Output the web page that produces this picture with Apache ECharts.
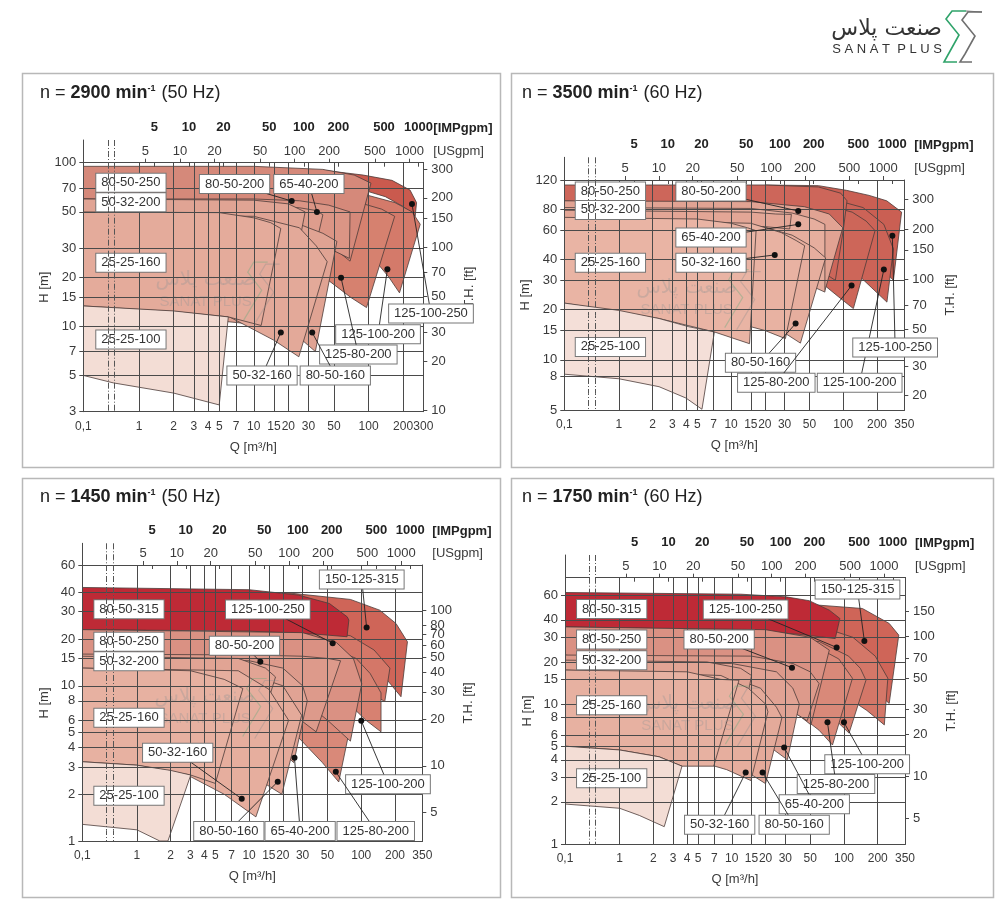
<!DOCTYPE html>
<html>
<head>
<meta charset="utf-8">
<script src="https://cdn.jsdelivr.net/npm/echarts@6.0.0/dist/echarts.min.js"></script>
<style>
  html, body { margin: 0; padding: 0; background: #fff; }
  #chart { width: 1000px; height: 920px; }
</style>
</head>
<body>
<div id="chart"></div>
<script>
(function() {
  const chart = echarts.init(document.getElementById('chart'));

  // axis ticks
  const qTicks300 = [0.1, 1, 2, 3, 4, 5, 7, 10, 15, 20, 30, 50, 100, 200, 300];
  const qTicks350 = [0.1, 1, 2, 3, 4, 5, 7, 10, 15, 20, 30, 50, 100, 200, 350];
  const gpmTicks = [5, 10, 20, 50, 100, 200, 500, 1000];
  const hTicks2900 = [3, 5, 7, 10, 15, 20, 30, 50, 70, 100];
  const hTicks3500 = [5, 8, 10, 15, 20, 30, 40, 60, 80, 120];
  const hTicks1450 = [1, 2, 3, 4, 5, 6, 8, 10, 15, 20, 30, 40, 60];
  const hTicks1750 = [1, 2, 3, 4, 5, 6, 8, 10, 15, 20, 30, 40, 60];
  const ftTicks2900 = [10, 20, 30, 50, 70, 100, 150, 200, 300];
  const ftTicks3500 = [20, 30, 50, 70, 100, 150, 200, 300];
  const ftTicks1450 = [5, 10, 20, 30, 40, 50, 60, 70, 80, 100];
  const ftTicks1750 = [5, 10, 20, 30, 50, 70, 100, 150];

  // unit factors
  const M_TO_FT = 3.28084;
  const M3H_TO_USGPM = 4.4029;
  const M3H_TO_IMPGPM = 3.6662;

  // pump ranges [Q m3/h, H m], back to front
  const regions2900 = [
    ['125-100-250', [[40, 90], [90, 84], [160, 78], [230, 68], [262, 57], [255, 47], [200, 54], [140, 62], [90, 68], [40, 72]]],
    ['125-100-200', [[30, 70], [100, 63], [170, 57], [240, 50], [282, 42], [186, 16], [150, 20], [110, 26], [70, 33], [30, 42]]],
    ['125-80-200', [[20, 64], [70, 59], [130, 52], [169, 47], [96, 13], [70, 15], [45, 19], [20, 28]]],
    ['80-50-250', [[0.1, 95], [10, 95], [40, 91], [75, 84], [105, 75], [69, 25], [50, 30], [30, 38], [15, 47], [5, 55], [0.1, 60]]],
    ['80-50-200', [[0.1, 60], [10, 60], [25, 58.5], [45, 55], [69, 50], [68, 26], [45, 30], [25, 36], [0.1, 45]]],
    ['65-40-200', [[0.1, 56], [10, 55], [25, 53], [35, 51], [40, 48], [35, 32], [20, 38], [0.1, 45]]],
    ['80-50-160', [[0.1, 48], [10, 47], [25, 42], [40, 37], [53, 33], [34.4, 7], [25, 8.5], [15, 10], [0.1, 13]]],
    ['50-32-200', [[0.1, 60], [10, 59], [20, 56], [28, 50], [26, 38], [15, 41], [0.1, 45]]],
    ['50-32-160', [[0.1, 48], [10, 47], [25, 40], [35, 31], [43.6, 24.8], [24.7, 6.5], [15, 8.2], [6, 11.5], [0.1, 13]]],
    ['25-25-160', [[0.1, 50], [5, 49.5], [10, 46], [14, 43], [17.2, 39.6], [11.6, 10.1], [6, 11.4], [2, 12.3], [0.1, 13.3]]],
    ['25-25-100', [[0.1, 13.3], [2, 12.4], [6, 11.4], [5, 3.3], [2, 3.9], [0.5, 4.5], [0.1, 5]]]
  ];
  const regions3500 = [
    ['125-100-250', [[20, 112], [60, 111], [107, 104], [170, 97], [244, 90], [331, 77], [280, 30], [200, 38], [120, 50], [60, 65], [20, 80]]],
    ['125-100-200', [[20, 98], [80, 92], [150, 82], [230, 65], [280, 46.3], [245, 22.2], [180, 27], [120, 35], [60, 45], [20, 55]]],
    ['125-80-200', [[15, 92], [60, 87], [120, 77], [160, 68], [192, 59.6], [123, 20.3], [90, 24], [60, 30], [30, 40], [15, 48]]],
    ['80-50-250', [[0.1, 112], [20, 112], [60, 109], [95, 100], [108, 90], [100, 60], [85, 30], [60, 35], [40, 45], [20, 60], [5, 80], [0.1, 90]]],
    ['80-50-200', [[0.1, 90], [15, 89], [45, 83], [75, 75], [99, 62], [68.6, 26], [45, 30], [25, 38], [0.1, 50]]],
    ['65-40-200', [[0.1, 82], [15, 81], [35, 76], [55, 70], [68.6, 65], [68.6, 25.5], [45, 29], [25, 36], [0.1, 48]]],
    ['80-50-160', [[0.1, 70], [15, 66], [35, 56], [55, 47], [69.6, 40.9], [41.5, 12.6], [30, 14.5], [15, 17], [0.1, 22]]],
    ['50-32-200', [[0.1, 79], [15, 77], [25, 75], [34.5, 74.6], [33.3, 61], [20, 63], [0.1, 70]]],
    ['50-32-160', [[0.1, 70], [15, 66], [28, 58], [38, 52], [45.3, 48.4], [30.5, 13.4], [20, 15], [10, 17], [0.1, 22]]],
    ['25-25-160', [[0.1, 71.6], [5, 70], [10, 66], [14, 62], [16.7, 59.6], [14.6, 12.5], [7.1, 14.7], [2.28, 17.7], [0.1, 21.9]]],
    ['25-25-100', [[0.1, 21.9], [1, 19.8], [2.28, 17.7], [4.2, 15.8], [7.1, 14.7], [5.5, 5.05], [3.96, 5.9], [2.28, 6.9], [1, 7.7], [0.1, 8.2]]]
  ];
  const regions1450 = [
    ['150-125-315', [[20, 40], [80, 36], [146, 30.7], [204, 25.2], [258, 19.2], [226, 8.5], [160, 11.5], [110, 14], [60, 17], [20, 20]]],
    ['125-100-250', [[5, 24], [40, 23], [80, 21], [130, 17], [180, 13], [162, 7.9], [110, 9.5], [70, 12], [40, 15], [5, 18]]],
    ['125-100-200', [[5, 20], [50, 18], [90, 15], [120, 12], [150, 9], [150, 5.05], [110, 6], [80, 7.5], [40, 10], [5, 14]]],
    ['125-80-200', [[5, 18], [40, 16.5], [70, 14], [95, 10.1], [63, 2.4], [45, 3.2], [25, 5], [5, 9]]],
    ['80-50-315', [[0.1, 43], [10, 41.6], [27.5, 38.4], [52, 33.9], [75, 27.8], [77.5, 26.5], [74.7, 20.7], [40, 21.5], [10, 22.5], [0.1, 23]]],
    ['80-50-250', [[0.1, 23], [30, 22], [60, 19], [85, 15], [101, 10.3], [80, 4.4], [50, 6], [25, 9], [10, 12], [0.1, 15.5]]],
    ['80-50-200', [[0.1, 16], [10, 15.8], [30, 15.5], [50, 15], [65.4, 14.5], [39.6, 5.05], [25, 6.5], [10, 9], [0.1, 11]]],
    ['65-40-200', [[0.1, 15], [10, 14.5], [20, 13], [30, 10], [33, 8], [25, 3.2], [15, 4.5], [0.1, 8]]],
    ['80-50-160', [[0.1, 13], [8, 12.5], [20, 10], [29.4, 6.46], [19.6, 2.0], [12, 2.5], [5, 3.2], [0.1, 4]]],
    ['50-32-200', [[0.1, 15.5], [8, 15], [14, 13], [17.2, 11.4], [15.5, 8.9], [8, 10], [0.1, 12]]],
    ['50-32-160', [[0.1, 13], [8, 12.5], [15, 9.5], [22.5, 6], [11.5, 1.43], [6, 2], [3, 2.6], [0.1, 3.2]]],
    ['25-25-160', [[0.1, 13], [3, 12.5], [6, 11], [8.8, 9.6], [5, 2.35], [3.02, 2.66], [1, 3.08], [0.1, 3.24]]],
    ['25-25-100', [[0.1, 3.24], [1, 3.08], [2, 2.85], [3.02, 2.66], [1.89, 1.0], [1.6, 1.0], [1, 1.18], [0.1, 1.28]]]
  ];
  const regions1750 = [
    ['150-125-315', [[20, 52], [60, 50.9], [146, 48.2], [253, 37.7], [308, 31.1], [253, 10.1], [180, 13], [120, 17], [80, 21], [20, 28]]],
    ['125-100-250', [[10, 40], [60, 36], [120, 30], [190, 22], [246, 15.3], [229, 7.1], [160, 9], [110, 11], [60, 15], [10, 25]]],
    ['125-100-200', [[10, 30], [60, 28], [110, 22], [140, 18], [157, 14.8], [111, 6.2], [80, 8], [40, 12], [10, 20]]],
    ['125-80-200', [[10, 30], [50, 27], [90, 21], [119, 15.3], [79, 5.1], [60, 6.5], [30, 10], [10, 17]]],
    ['80-50-315', [[0.1, 62.7], [12, 61], [30.4, 58.4], [49, 54.8], [74, 46.9], [92, 40.9], [83.6, 29.4], [40, 31.5], [12.4, 33.8], [0.1, 35.6]]],
    ['80-50-250', [[0.1, 35.6], [20, 34], [50, 30], [74, 24.3], [50.8, 7.1], [35, 9], [15, 14], [0.1, 22.4]]],
    ['80-50-200', [[0.1, 22.4], [15, 22], [35, 19.5], [50, 17], [60, 14], [47, 7.6], [30, 9.5], [10, 14], [0.1, 18]]],
    ['65-40-200', [[0.1, 20], [10, 19.5], [25, 17], [35, 13], [40, 10], [31.3, 4.0], [20, 5.2], [0.1, 10]]],
    ['80-50-160', [[0.1, 17.5], [8, 16.5], [18, 13], [25, 9.5], [28, 8], [20, 2.7], [12, 3.5], [0.1, 7]]],
    ['50-32-200', [[0.1, 20.6], [6, 20], [12, 18], [15, 16], [14, 12], [7, 14], [0.1, 17]]],
    ['50-32-160', [[0.1, 17.5], [8, 16], [14, 13], [20, 10], [21, 8.8], [14.8, 2.84], [9, 3.4], [5, 3.9], [0.1, 5]]],
    ['25-25-160', [[0.1, 17.5], [4, 17], [8, 15], [11.6, 14.8], [6.9, 3.6], [3.6, 3.6], [2.25, 4.2], [1, 4.7], [0.1, 5.0]]],
    ['25-25-100', [[0.1, 5.0], [1, 4.7], [2.25, 4.2], [3.6, 3.6], [2.5, 1.33], [1.5, 1.6], [1, 1.8], [0.1, 1.93]]]
  ];

  // tags: name, box Q, box H, dot Q, dot H
  const tags2900 = [
    ['80-50-250', 0.85, 75.5], ['50-32-200', 0.85, 57.2], ['25-25-160', 0.85, 24.4], ['25-25-100', 0.85, 8.3],
    ['80-50-200', 6.8, 74, 21.4, 58.3], ['65-40-200', 30.2, 74, 35.5, 50],
    ['125-100-250', 350, 11.95, 239, 55.9], ['125-100-200', 121, 8.93, 146, 22.3],
    ['125-80-200', 81.5, 6.71, 57.6, 19.8], ['50-32-160', 11.8, 5.0, 17.2, 9.14], ['80-50-160', 51.3, 5.0, 32.3, 9.14]
  ];
  const tags3500 = [
    ['80-50-250', 0.84, 102.3], ['50-32-200', 0.84, 79.4], ['25-25-160', 0.84, 38.2], ['25-25-100', 0.84, 11.96],
    ['80-50-200', 6.62, 102.3, 39.7, 78.2], ['65-40-200', 6.62, 54.3, 39.7, 65], ['50-32-160', 6.62, 38.2, 24.5, 42.6],
    ['80-50-160', 18.3, 9.6, 37.6, 16.5], ['125-80-200', 25.3, 7.29, 118.6, 27.9],
    ['125-100-200', 140, 7.29, 230, 34.8], ['125-100-250', 290, 11.85, 274, 55.6]
  ];
  const tags1450 = [
    ['80-50-315', 0.85, 31.1], ['80-50-250', 0.85, 19.2], ['50-32-200', 0.85, 14.4], ['25-25-160', 0.85, 6.22], ['25-25-100', 0.85, 1.96],
    ['150-125-315', 101, 48.3, 111.6, 23.7], ['125-100-250', 14.7, 31.0, 55.6, 18.8], ['80-50-200', 9.1, 18.1, 12.6, 14.3],
    ['50-32-160', 2.31, 3.7, 8.6, 1.87], ['125-100-200', 173, 2.32, 100, 5.95], ['80-50-160', 6.6, 1.16, 18, 2.41],
    ['65-40-200', 28.5, 1.16, 25.4, 3.44], ['125-80-200', 134.6, 1.16, 59.3, 2.79]
  ];
  const tags1750 = [
    ['80-50-315', 0.85, 47.7], ['80-50-250', 0.85, 28.9], ['50-32-200', 0.85, 20.6], ['25-25-160', 0.85, 9.8], ['25-25-100', 0.85, 2.95],
    ['150-125-315', 132, 65.8, 152, 28.2], ['125-100-250', 13.3, 47.5, 86, 25.4], ['80-50-200', 7.71, 28.9, 34.4, 18.2],
    ['125-100-200', 161, 3.72, 100, 7.4], ['125-80-200', 84.9, 2.68, 71.3, 7.4], ['65-40-200', 54.4, 1.92, 29.3, 4.9],
    ['50-32-160', 7.8, 1.37, 13.3, 3.24], ['80-50-160', 36, 1.37, 18.8, 3.24]
  ];

  // fills
  const tones2900 = {
    '125-100-250': '#ca5a4e', '125-100-200': '#d47a6a', '125-80-200': '#d6816f', '80-50-250': '#d5897a',
    '80-50-200': '#db9585', '65-40-200': '#de9d8d', '80-50-160': '#e0a393', '50-32-200': '#e0a494',
    '50-32-160': '#e3a999', '25-25-160': '#e4ab9b', '25-25-100': '#f3ddd5'
  };
  const tones3500 = {
    '125-100-250': '#ca5f53', '125-100-200': '#cc6357', '125-80-200': '#cd6659', '80-50-250': '#cd665a',
    '80-50-200': '#e1a393', '65-40-200': '#e6ae9e', '80-50-160': '#e6ae9e', '50-32-200': '#e3a696',
    '50-32-160': '#e8b2a2', '25-25-160': '#e9b4a4', '25-25-100': '#f4dfd8'
  };
  const tones60 = {
    '150-125-315': '#cf6558', '125-100-250': '#d47768', '125-100-200': '#d78171', '125-80-200': '#d98979',
    '80-50-315': '#be2a36', '80-50-250': '#da9183', '80-50-200': '#dd9a8b', '65-40-200': '#e1a394',
    '80-50-160': '#e4aa9a', '50-32-200': '#e1a494', '50-32-160': '#e6ae9e', '25-25-160': '#e7b1a1', '25-25-100': '#f3ddd5'
  };

  const panels = [
    { rpm: '2900', hz: '50', frame: [22, 73, 478, 394], plot: [83.3, 162.7, 423.3, 411.7], imp: 140, title: [35, 79],
      qMax: 300, qTicks: qTicks300, hMin: 3, hMax: 100, hTicks: hTicks2900, ftTicks: ftTicks2900,
      regions: regions2900, tags: tags2900, tones: tones2900 },
    { rpm: '3500', hz: '60', frame: [511, 73, 482, 394], plot: [564.3, 180, 904.3, 410], imp: 157.3, title: [517, 79],
      qMax: 350, qTicks: qTicks350, hMin: 5, hMax: 120, hTicks: hTicks3500, ftTicks: ftTicks3500,
      regions: regions3500, tags: tags3500, tones: tones3500 },
    { rpm: '1450', hz: '50', frame: [22, 478, 478, 419], plot: [82.3, 565, 422.3, 841], imp: 543.3, title: [35, 483],
      qMax: 350, qTicks: qTicks350, hMin: 1, hMax: 60, hTicks: hTicks1450, ftTicks: ftTicks1450,
      regions: regions1450, tags: tags1450, tones: tones60 },
    { rpm: '1750', hz: '60', frame: [511, 478, 482, 419], plot: [565, 577.7, 905, 844], imp: 555, title: [517, 483],
      qMax: 350, qTicks: qTicks350, hMin: 1, hMax: 80, hTicks: hTicks1750, ftTicks: ftTicks1750,
      regions: regions1750, tags: tags1750, tones: tones60 }
  ];

  const FONT = '"Liberation Sans", Arial, sans-serif';
  const INK = '#3a3a3a';
  const LINE = '#4a4a4a';
  const BREAK = [0.165, 0.61];
  const EPS = 1.00001;

  const fmt = v => (v < 1 ? String(v).replace('.', ',') : String(Math.round(v)));

  function breaksFor(f) {
    return [{ start: BREAK[0] * f, end: BREAK[1] * f, gap: '1.8%' }];
  }
  const breakArea = {
    show: true,
    expandOnClick: false,
    zigzagAmplitude: 0,
    itemStyle: { color: 'rgba(255,255,255,0)', borderColor: '#555', borderWidth: 1, borderType: [6, 2, 1, 2], opacity: 1 }
  };

  const grid = [], xAxis = [], yAxis = [], series = [], title = [], graphic = [];

  panels.forEach((p, k) => {
    const [l, t, r, b] = p.plot;
    grid.push({ left: l, top: t, width: r - l, height: b - t, outerBoundsMode: 'none', containLabel: false });
    grid.push({ left: l, top: p.imp, width: r - l, height: t - p.imp, outerBoundsMode: 'none', containLabel: false });
    const g = 2 * k;

    xAxis.push({
      gridIndex: g, type: 'log', logBase: 10, min: 0.1, max: p.qMax * EPS, position: 'bottom',
      breaks: breaksFor(1), breakArea: breakArea,
      name: 'Q [m³/h]', nameLocation: 'middle', nameGap: 29,
      nameTextStyle: { fontFamily: FONT, fontSize: 13, color: INK },
      axisLine: { show: true, lineStyle: { color: LINE, width: 1 } },
      axisTick: { show: false, customValues: p.qTicks },
      axisLabel: {
        customValues: p.qTicks, formatter: fmt, showMinLabel: true, showMaxLabel: true, hideOverlap: false,
        fontFamily: FONT, fontSize: 12, color: INK, margin: 9
      },
      splitLine: { show: true, lineStyle: { color: LINE, width: 1 } }
    });
    xAxis.push({
      gridIndex: g, type: 'log', logBase: 10, min: 0.1 * M3H_TO_USGPM, max: p.qMax * M3H_TO_USGPM * EPS, position: 'top',
      breaks: breaksFor(M3H_TO_USGPM), breakArea: { show: false },
      name: '[USgpm]', nameLocation: 'end', nameGap: 10,
      nameTextStyle: { fontFamily: FONT, fontSize: 13, color: INK, verticalAlign: 'bottom', padding: [0, 0, 5, 0] },
      axisLine: { show: true, lineStyle: { color: LINE, width: 1 } },
      axisTick: { show: true, customValues: gpmTicks, length: 4, lineStyle: { color: LINE } },
      axisLabel: { customValues: gpmTicks, formatter: fmt, fontFamily: FONT, fontSize: 13, color: INK, margin: 5 },
      splitLine: { show: false }
    });
    xAxis.push({
      gridIndex: g + 1, type: 'log', logBase: 10, min: 0.1 * M3H_TO_IMPGPM, max: p.qMax * M3H_TO_IMPGPM * EPS, position: 'top',
      breaks: breaksFor(M3H_TO_IMPGPM), breakArea: breakArea,
      axisLine: { show: true, lineStyle: { color: LINE, width: 1 } },
      axisTick: { show: true, inside: true, customValues: gpmTicks, length: 4, lineStyle: { color: LINE } },
      axisLabel: { customValues: gpmTicks, formatter: fmt, fontFamily: FONT, fontSize: 13, fontWeight: 'bold', color: '#222', margin: 6 },
      splitLine: { show: false }
    });

    yAxis.push({
      gridIndex: g, type: 'log', logBase: 10, min: p.hMin, max: p.hMax * EPS, position: 'left',
      name: 'H [m]', nameLocation: 'middle', nameRotate: 90, nameGap: 31,
      nameTextStyle: { fontFamily: FONT, fontSize: 13, color: INK },
      axisLine: { show: true, lineStyle: { color: LINE, width: 1 } },
      axisTick: { show: true, customValues: p.hTicks, length: 4, lineStyle: { color: LINE } },
      axisLabel: { customValues: p.hTicks, formatter: fmt, showMaxLabel: true, fontFamily: FONT, fontSize: 13, color: INK, margin: 7 },
      splitLine: { show: true, lineStyle: { color: LINE, width: 1 } }
    });
    yAxis.push({
      gridIndex: g, type: 'log', logBase: 10, min: p.hMin * M_TO_FT, max: p.hMax * M_TO_FT, position: 'right',
      name: 'T.H. [ft]', nameLocation: 'middle', nameRotate: 90, nameGap: 40,
      nameTextStyle: { fontFamily: FONT, fontSize: 13, color: INK },
      axisLine: { show: true, lineStyle: { color: LINE, width: 1 } },
      axisTick: { show: true, customValues: p.ftTicks, length: 4, lineStyle: { color: LINE } },
      axisLabel: { customValues: p.ftTicks, formatter: fmt, fontFamily: FONT, fontSize: 13, color: INK, margin: 8 },
      splitLine: { show: false }
    });
    yAxis.push({
      gridIndex: g + 1, type: 'value', min: 0, max: 1, position: 'left',
      axisLine: { show: true, lineStyle: { color: LINE, width: 1 } },
      axisTick: { show: false }, axisLabel: { show: false }, splitLine: { show: false }
    });

    const xi = 3 * k, yi = 3 * k;

    series.push({
      type: 'custom', name: 'ranges ' + p.rpm, xAxisIndex: xi, yAxisIndex: yi, z: -1, clip: true, silent: true,
      encode: { x: 0, y: 1 },
      data: p.regions.map((reg, i) => [reg[1][0][0], reg[1][0][1], i]),
      renderItem: function(params, api) {
        const reg = p.regions[api.value(2)];
        return {
          type: 'polygon',
          shape: { points: reg[1].map(pt => api.coord(pt)) },
          style: { fill: p.tones[reg[0]], stroke: '#4b3b38', lineWidth: 0.8 }
        };
      }
    });

    series.push({
      type: 'custom', name: 'tags ' + p.rpm, xAxisIndex: xi, yAxisIndex: yi, z: 10, clip: false, silent: true,
      encode: { x: 0, y: 1 },
      data: p.tags.map((tg, i) => [tg[1], tg[2], i]),
      renderItem: function(params, api) {
        const tg = p.tags[api.value(2)];
        const box = api.coord([tg[1], tg[2]]);
        const kids = [];
        if (tg.length > 3) {
          const dot = api.coord([tg[3], tg[4]]);
          kids.push({ type: 'line', shape: { x1: box[0], y1: box[1], x2: dot[0], y2: dot[1] }, style: { stroke: '#222', lineWidth: 0.9 } });
          kids.push({ type: 'circle', shape: { cx: dot[0], cy: dot[1], r: 3 }, style: { fill: '#111' } });
        }
        kids.push({
          type: 'text', x: box[0], y: box[1],
          style: {
            text: tg[0], align: 'center', verticalAlign: 'middle',
            fontFamily: FONT, fontSize: 13, fill: '#333',
            backgroundColor: '#fff', borderColor: '#777', borderWidth: 1, padding: [3, 5, 2, 5]
          }
        });
        return { type: 'group', children: kids };
      }
    });

    title.push({
      left: p.title[0], top: p.title[1],
      text: '{a|n = }{b|' + p.rpm + ' min}{c|-1}{a| (' + p.hz + ' Hz)}',
      textStyle: {
        rich: {
          a: { fontFamily: FONT, fontSize: 18, fontWeight: 'normal', color: '#222' },
          b: { fontFamily: FONT, fontSize: 18, fontWeight: 'bold', color: '#222' },
          c: { fontFamily: FONT, fontSize: 9, fontWeight: 'bold', color: '#222', verticalAlign: 'top', padding: [0, 1, 8, 0] }
        }
      }
    });

    graphic.push({
      type: 'rect', silent: true, z: -10,
      shape: { x: p.frame[0] + 0.5, y: p.frame[1] + 0.5, width: p.frame[2], height: p.frame[3] },
      style: { fill: 'none', stroke: '#b8b8b8', lineWidth: 1.5 }
    });
    // IMP axis caption
    graphic.push({
      type: 'text', silent: true, x: r + 10, y: p.imp - 12,
      style: { text: '[IMPgpm]', fontFamily: FONT, fontSize: 13, fontWeight: 'bold', fill: '#222', align: 'left', verticalAlign: 'middle' }
    });
    // watermark
    const wx = l + (r - l) * 0.36, wy = t + (b - t) * 0.52;
    graphic.push({
      type: 'group', silent: true, z: 1,
      children: [
        { type: 'text', x: wx, y: wy - 12, style: { text: 'صنعت پلاس', fontFamily: 'DejaVu Sans', fontSize: 20, fill: 'rgba(150,150,150,0.35)', align: 'center', verticalAlign: 'middle' } },
        { type: 'text', x: wx, y: wy + 10, style: { text: 'SANAT PLUS', fontFamily: FONT, fontSize: 15, fill: 'rgba(150,150,150,0.35)', align: 'center', verticalAlign: 'middle' } },
        { type: 'polyline', shape: { points: [[wx + 62, wy - 30], [wx + 48, wy - 30], [wx + 42, wy - 20], [wx + 56, wy - 2], [wx + 44, wy + 18], [wx + 38, wy + 28]] }, style: { stroke: 'rgba(90,170,120,0.35)', lineWidth: 1.2, fill: 'none' } },
        { type: 'polyline', shape: { points: [[wx + 74, wy - 28], [wx + 60, wy - 28], [wx + 54, wy - 18], [wx + 68, wy], [wx + 56, wy + 20], [wx + 50, wy + 30]] }, style: { stroke: 'rgba(140,140,140,0.35)', lineWidth: 1.2, fill: 'none' } }
      ]
    });
  });

  // logo
  graphic.push({
    type: 'group', silent: true,
    children: [
      { type: 'text', x: 942, y: 29, style: { text: 'صنعت پلاس', fontFamily: 'DejaVu Sans', fontSize: 22, fill: '#333', align: 'right', verticalAlign: 'middle' } },
      { type: 'text', x: 942, y: 49, style: { text: 'S A N A T  P L U S', fontFamily: FONT, fontSize: 13, fill: '#333', align: 'right', verticalAlign: 'middle' } },
      { type: 'polyline', shape: { points: [[966, 11], [952, 11], [946, 19], [959, 35], [949, 53], [944, 62], [957, 62]] }, style: { stroke: '#2fa36a', lineWidth: 1.6, fill: 'none' } },
      { type: 'polyline', shape: { points: [[982, 12], [968, 12], [962, 20], [975, 36], [965, 54], [960, 62], [972, 62]] }, style: { stroke: '#6f6f6f', lineWidth: 1.6, fill: 'none' } },
      { type: 'polyline', shape: { points: [[966, 11], [982, 12]] }, style: { stroke: '#6f6f6f', lineWidth: 1.2, fill: 'none' } }
    ]
  });

  chart.setOption({
    backgroundColor: '#fff',
    animation: false,
    title: title,
    grid: grid,
    xAxis: xAxis,
    yAxis: yAxis,
    series: series,
    graphic: graphic
  });
}());
</script>
</body>
</html>
